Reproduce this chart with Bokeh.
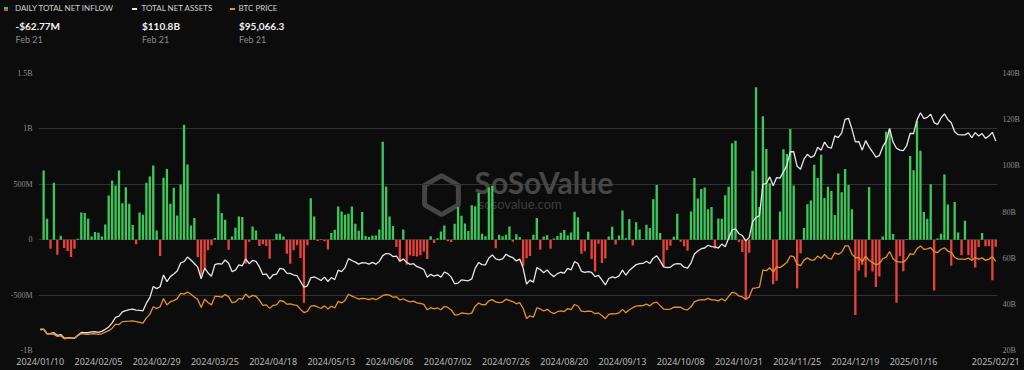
import numpy as np
from bokeh.plotting import figure
from bokeh.layouts import column
from bokeh.models import Range1d, LinearAxis, FixedTicker, Label, ColumnDataSource, Div
from bokeh.embed import file_html
from bokeh.resources import INLINE

# ---------------- data (one value per US trading day, 2024/01/10 .. 2025/02/21) -------------
# Daily total net inflow, US$ millions
inflow_musd = [
    0, 625, 190, -81, 513, -135, 36, -75, -102, -156,
    -81, 9, 246, 240, 189, 30, 69, 63, 30, 138,
    399, 534, 489, 624, 330, 474, 324, 132, -42, 246,
    225, 513, 570, 669, 84, -147, 558, 639, 324, 468,
    219, 498, 1038, 678, 129, 195, -156, -321, -255, -96,
    -51, 15, 414, 240, 180, -90, 30, 108, 210, 204,
    -216, -18, 120, 84, -57, -42, -57, -171, -4, 54,
    54, 30, -126, -216, -96, -51, -165, -570, -50, 375,
    210, -12, 5, -15, -88, 60, 90, 300, 255, 225,
    234, 300, 144, 81, 249, 33, 24, 39, 39, 93,
    885, 480, 210, 123, -66, -200, 93, -226, -140, -146,
    -152, -140, -106, -174, 31, -30, 12, 73, 129, -13,
    -20, 143, 295, 216, 147, 79, 310, 301, 422, 53,
    32, 470, 486, -78, 44, 31, 45, 120, -18, 50,
    25, -237, -168, -148, 45, 195, -90, 28, 40, -81,
    11, 33, 62, 88, 39, 65, 252, 203, -127, -105,
    72, -175, -288, -37, -211, -169, 29, 117, -44, 39,
    263, 13, 187, -53, 158, 92, 5, 136, 106, 366,
    494, 61, -243, -92, -54, 26, 235, -19, -60, -100,
    254, 556, 371, 458, 470, 274, 294, -79, 192, 188,
    402, 479, 870, 893, -20, -110, -541, -117, 622, 1376,
    294, 1114, 818, 510, -401, -371, 255, 816, 773, 1000,
    490, -438, -123, 105, 320, 354, 676, 557, 767, 377,
    479, 439, 223, 597, 429, 637, 493, 275, -680, -277,
    -227, -338, 475, -288, -426, -333, 30, 975, 995, 52,
    -569, -149, -284, 5, 755, 626, 1073, 802, 249, 189,
    500, -458, 10, 54, 588, 318, -235, 341, 66, -140,
    171, -141, -171, -250, -66, 60, -60, -57, -365, -62.77,
]

# Total net assets, US$ billions
tna_busd = [
    28.9, 29.3, 27.3, 27.4, 27.7, 26.6, 26.9, 25.4, 25.5, 25.6,
    25.3, 26.6, 27.8, 27.7, 27.7, 28.1, 28.2, 27.9, 28.3, 29.2,
    30.2, 32.0, 34.4, 34.9, 36.7, 37.3, 37.7, 37.9, 37.5, 37.4,
    37.2, 40.5, 42.9, 47.7, 46.8, 47.6, 52.7, 49.8, 52.0, 53.1,
    54.4, 57.9, 58.5, 60.5, 59.2, 57.7, 56.1, 51.1, 55.7, 53.6,
    52.2, 57.2, 57.6, 57.4, 59.2, 57.8, 54.2, 54.8, 57.1, 56.7,
    59.7, 57.6, 59.0, 58.6, 56.2, 52.9, 53.2, 51.0, 52.8, 53.1,
    55.6, 55.3, 53.5, 53.4, 52.7, 52.4, 49.9, 47.4, 48.0, 51.5,
    51.9, 51.2, 50.3, 51.8, 49.9, 51.6, 50.7, 54.8, 54.2, 55.9,
    59.8, 59.0, 58.3, 57.4, 58.1, 58.0, 57.4, 58.2, 57.4, 58.6,
    61.1, 62.0, 61.9, 60.7, 60.9, 58.7, 59.6, 58.2, 57.3, 57.6,
    56.3, 55.8, 55.1, 51.7, 53.0, 52.2, 52.8, 51.8, 54.0, 53.3,
    51.8, 48.9, 49.2, 50.6, 50.4, 50.2, 51.0, 55.7, 58.1, 57.2,
    57.1, 60.1, 61.4, 59.7, 59.3, 59.7, 61.7, 60.8, 60.2, 58.8,
    59.6, 55.7, 48.8, 50.5, 49.6, 55.9, 55.1, 53.7, 54.9, 53.1,
    52.0, 53.3, 53.9, 53.5, 55.6, 54.9, 58.5, 57.7, 54.3, 53.8,
    54.2, 53.8, 52.0, 52.5, 50.6, 48.4, 51.2, 51.9, 51.5, 52.3,
    54.8, 52.6, 54.7, 56.0, 57.2, 57.6, 57.7, 58.7, 57.7, 60.0,
    61.0, 58.8, 56.2, 55.9, 56.1, 57.3, 57.6, 57.5, 56.1, 55.7,
    57.9, 61.8, 63.1, 64.1, 64.4, 65.6, 65.0, 64.9, 64.4, 66.1,
    64.9, 68.6, 72.2, 72.7, 70.6, 69.8, 67.5, 69.0, 75.8, 77.6,
    78.4, 92.0, 92.4, 95.2, 91.4, 94.9, 94.7, 97.4, 100.2, 106.1,
    106.1, 99.8, 98.5, 102.9, 105.0, 103.6, 104.4, 108.0, 106.8, 110.3,
    108.1, 107.7, 113.0, 112.2, 114.3, 120.1, 120.6, 116.0, 110.4, 110.5,
    106.8, 110.9, 108.2, 106.1, 103.8, 104.4, 108.3, 110.7, 116.2, 110.3,
    107.6, 106.8, 106.6, 108.8, 114.1, 114.0, 119.9, 123.0, 120.5, 121.0,
    122.4, 118.7, 117.9, 120.7, 122.5, 120.1, 118.7, 114.8, 113.5, 113.4,
    113.4, 114.3, 112.2, 114.4, 112.9, 114.0, 111.9, 112.9, 114.5, 110.8,
]

# BTC price, US$ thousands
btc_kusd = [
    46.6, 46.3, 42.8, 43.1, 42.7, 41.2, 41.6, 39.5, 39.8, 40.1,
    39.9, 41.8, 43.3, 42.9, 42.6, 43.1, 43.2, 42.6, 43.1, 44.3,
    45.3, 47.1, 50.0, 49.7, 51.8, 52.0, 52.1, 52.3, 51.8, 51.3,
    50.7, 54.5, 57.0, 62.5, 61.2, 62.4, 68.3, 63.8, 66.1, 66.9,
    68.3, 72.1, 71.5, 73.1, 71.4, 69.4, 67.6, 62.0, 67.9, 65.5,
    63.8, 69.9, 69.9, 69.4, 71.3, 69.7, 65.4, 65.9, 68.5, 67.8,
    71.6, 69.1, 70.6, 70.0, 67.2, 63.4, 63.8, 61.3, 63.5, 63.8,
    66.8, 66.4, 64.3, 64.5, 63.8, 63.4, 60.6, 58.3, 59.1, 62.9,
    63.2, 62.3, 61.2, 63.1, 60.8, 62.9, 61.6, 66.3, 65.2, 67.0,
    71.4, 70.1, 69.1, 67.9, 68.5, 68.3, 67.6, 68.4, 67.5, 68.8,
    70.6, 71.1, 70.8, 69.3, 69.6, 67.3, 68.2, 66.8, 66.0, 66.5,
    65.2, 64.8, 64.1, 60.3, 61.8, 60.9, 61.6, 60.3, 62.7, 62.0,
    60.2, 56.7, 56.7, 58.0, 57.7, 57.3, 57.9, 62.9, 65.1, 64.0,
    63.9, 66.7, 67.6, 65.9, 65.4, 65.8, 67.9, 66.8, 66.2, 64.6,
    65.4, 61.4, 54.0, 56.0, 55.0, 61.7, 60.9, 59.4, 60.6, 58.7,
    57.5, 58.9, 59.5, 59.0, 61.2, 60.4, 64.1, 63.0, 59.4, 59.0,
    59.4, 59.1, 57.5, 58.0, 56.2, 53.9, 57.0, 57.6, 57.3, 58.1,
    60.6, 58.2, 60.3, 61.8, 62.9, 63.2, 63.3, 64.3, 63.1, 65.2,
    65.8, 63.3, 60.8, 60.6, 60.8, 62.1, 62.2, 62.1, 60.6, 60.3,
    62.4, 66.0, 67.0, 67.6, 67.4, 68.4, 67.4, 67.4, 66.7, 68.2,
    66.6, 69.9, 72.7, 72.3, 70.2, 69.5, 67.8, 69.4, 75.6, 76.0,
    76.5, 88.7, 88.3, 90.5, 87.3, 91.0, 90.5, 92.3, 94.3, 98.9,
    98.4, 93.0, 91.9, 95.9, 97.5, 95.9, 96.0, 98.8, 97.0, 99.9,
    97.4, 96.7, 101.2, 100.0, 101.5, 106.1, 106.1, 100.2, 97.5, 97.8,
    94.7, 98.7, 95.8, 94.2, 92.6, 93.4, 96.9, 98.1, 102.1, 96.9,
    95.0, 94.5, 94.5, 96.5, 100.5, 99.9, 104.1, 106.1, 103.7, 104.0,
    104.8, 102.0, 101.3, 103.7, 104.7, 102.4, 101.4, 97.8, 96.6, 96.6,
    96.5, 97.4, 95.7, 97.8, 96.6, 97.5, 95.7, 96.6, 98.3, 95.07,
]

tick_index = [0, 17, 34, 51, 68, 85, 102, 119, 136, 153, 170, 187, 204, 221, 238, 255, 279]
tick_labels = ["2024/01/10", "2024/02/05", "2024/02/29", "2024/03/25", "2024/04/18",
               "2024/05/13", "2024/06/06", "2024/07/02", "2024/07/26", "2024/08/20",
               "2024/09/13", "2024/10/08", "2024/10/31", "2024/11/25", "2024/12/19",
               "2025/01/16", "2025/02/21"]
left_ticks = [-1000, -500, 0, 500, 1000, 1500]
left_tick_labels = ["-1B", "-500M", "0", "500M", "1B", "1.5B"]
right_ticks = [20, 40, 60, 80, 100, 120, 140]
right_tick_labels = ["20B", "40B", "60B", "80B", "100B", "120B", "140B"]

legend_names = ["DAILY TOTAL NET INFLOW", "TOTAL NET ASSETS", "BTC PRICE"]
latest_values = ["-$62.77M", "$110.8B", "$95,066.3"]
latest_date = "Feb 21"

# ---------------- style / layout ----------------
BG = "#0c0c0c"
GREEN = "#3dc75a"
RED = "#e5443b"
WHITE = "#e6e6e6"
ORANGE = "#e8902e"
GRID = "#323232"

W = 1024
HEAD_H = 60            # header strip (legend + latest values)
MAIN_H = 310           # chart strip
FL, FT, FW, FH = 38, 13, 959, 278   # frame inside the chart strip
X0, X1 = -0.5, 279.5
Y0, Y1 = -1000, 1500


def dx(rx):
    return X0 + (rx - FL) * (X1 - X0) / FW


def dy(ry):
    # ry: vertical pixel position on the whole page
    return Y0 + (HEAD_H + FT + FH - ry) * (Y1 - Y0) / FH


# ---------------- header (legend + latest values) ----------------
parts = []


def hbox(left, top, w, h, color):
    parts.append(f'<div style="position:absolute;left:{left}px;top:{top}px;width:{w}px;'
                 f'height:{h}px;background:{color};"></div>')


def htext(left, baseline, text, size, color, weight=400):
    top = baseline - 0.987 * size
    parts.append(f'<div style="position:absolute;left:{left}px;top:{top:.1f}px;'
                 f'font-family:Lato;font-size:{size}px;line-height:1.2;font-weight:{weight};'
                 f'color:{color};white-space:nowrap;margin:0;padding:0;">{text}</div>')


hbox(4, 6.6, 3.6, 2.2, GREEN)
hbox(4, 8.8, 3.6, 2.0, RED)
hbox(132, 8.2, 5, 1.8, WHITE)
hbox(230, 8.2, 5, 1.8, ORANGE)
col_x = [15, 141.5, 238.5]
for cx, name, val in zip(col_x, legend_names, latest_values):
    htext(cx, 11.8, name, 8, "#cfcfcf")
    htext(cx + 0.5, 30, val, 10, "#f2f2f2", 700)
    htext(cx + 0.5, 44, latest_date, 9, "#8a8a8a")

header = Div(text=(f'<div style="position:relative;width:{W}px;height:{HEAD_H}px;'
                   f'background:{BG};overflow:hidden;margin:0;padding:0;">'
                   + "".join(parts) + '</div>'),
             width=W, height=HEAD_H, margin=0, styles={"background-color": BG})

# ---------------- main chart ----------------
p = figure(width=W, height=MAIN_H, output_backend="svg", toolbar_location=None,
           x_range=Range1d(X0, X1), y_range=Range1d(Y0, Y1),
           background_fill_color=BG, border_fill_color=BG, outline_line_color=None,
           min_border_left=FL, min_border_right=W - FL - FW,
           min_border_top=FT, min_border_bottom=MAIN_H - FT - FH,
           styles={"background-color": BG})
p.outline_line_alpha = 0
p.extra_y_ranges = {"tna": Range1d(20, 140), "btc": Range1d(31.1, 229.7)}

# watermark (behind the data)
p.scatter(x=[dx(441)], y=[dy(195)], marker="hex", size=39, angle=np.pi / 6,
          fill_color=None, line_color="#454545", line_width=5, level="underlay")
p.add_layout(Label(x=dx(474), y=dy(200), text="SoSoValue", text_font="Lato",
                   text_font_style="bold", text_font_size="30px", text_color="#474747",
                   level="underlay"))
p.add_layout(Label(x=dx(478), y=dy(212.5), text="sosovalue.com", text_font="Lato",
                   text_font_size="13px", text_color="#3e3e3e", level="underlay"))

# bars
xs = list(range(len(inflow_musd)))
bar_src = ColumnDataSource(dict(x=xs, top=inflow_musd,
                                color=[GREEN if v >= 0 else RED for v in inflow_musd]))
p.vbar(x="x", top="top", bottom=0, width=0.68, fill_color="color", line_color=None,
       source=bar_src)

# lines
p.line(list(range(len(tna_busd))), tna_busd, y_range_name="tna",
       line_color=WHITE, line_width=1.3)
p.line(list(range(len(btc_kusd))), btc_kusd, y_range_name="btc",
       line_color=ORANGE, line_width=1.3)


def style_axis(a, font, size, color, standoff):
    a.axis_line_color = None
    a.major_tick_line_color = None
    a.minor_tick_line_color = None
    a.major_tick_out = 0
    a.major_tick_in = 0
    a.minor_tick_out = 0
    a.minor_tick_in = 0
    a.axis_label_standoff = 0
    a.major_label_text_color = color
    a.major_label_text_font = font
    a.major_label_text_font_size = size
    a.major_label_standoff = standoff


ax = p.xaxis[0]
ax.ticker = FixedTicker(ticks=tick_index)
ax.major_label_overrides = dict(zip(tick_index, tick_labels))
style_axis(ax, "Noto Sans", "9px", "#b8b8b8", 4)

ly = p.yaxis[0]
ly.ticker = FixedTicker(ticks=left_ticks)
ly.major_label_overrides = dict(zip(left_ticks, left_tick_labels))
style_axis(ly, "Liberation Serif", "8px", "#8c8c8c", 6)

ry = LinearAxis(y_range_name="tna", ticker=FixedTicker(ticks=right_ticks),
                major_label_overrides=dict(zip(right_ticks, right_tick_labels)))
style_axis(ry, "Liberation Serif", "8px", "#8c8c8c", 5)
p.add_layout(ry, "right")

p.xgrid.visible = False
p.ygrid.ticker = FixedTicker(ticks=left_ticks)
p.ygrid.grid_line_color = GRID
p.ygrid.grid_line_width = 1

layout = column(header, p, spacing=0, styles={"background-color": BG})
open("out.html", "w").write(file_html(layout, INLINE))
